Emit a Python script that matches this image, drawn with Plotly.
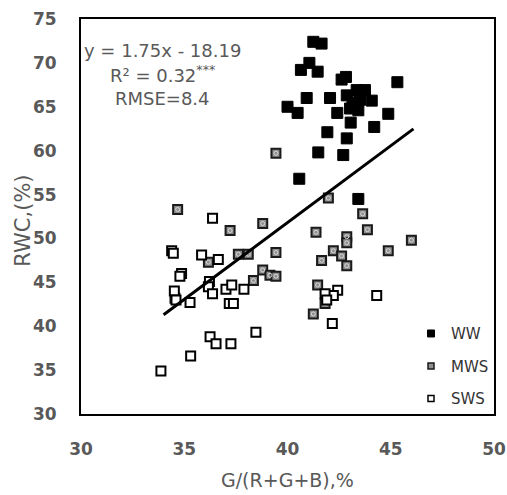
import plotly.graph_objects as go

# ---- data ----
ww_x = [41.25, 41.65, 41.06, 40.65, 41.46, 42.62, 42.83, 45.32, 40.93, 42.06,
        42.87, 43.35, 43.75, 43.51, 44.08, 40.00, 40.49, 42.41, 43.03, 43.43,
        44.88, 43.06, 44.20, 41.93, 42.87, 41.49, 42.70, 40.57, 43.43, 43.15]
ww_y = [72.4, 72.2, 70.0, 69.2, 69.0, 68.1, 68.4, 67.8, 66.0, 66.0,
        66.3, 66.9, 66.9, 65.8, 65.7, 65.0, 64.3, 64.3, 64.8, 64.6,
        64.2, 63.2, 62.7, 62.1, 61.4, 59.8, 59.5, 56.8, 54.5, 65.5]

mws_x = [39.44, 41.98, 34.68, 43.64, 37.22, 38.80, 41.38, 43.87, 42.87, 42.87,
         46.00, 44.88, 42.22, 39.44, 37.62, 38.10, 36.17, 41.65, 42.62, 42.87,
         38.80, 39.15, 39.44, 38.35, 41.46, 41.82, 41.25, 34.55]
mws_y = [59.7, 54.6, 53.3, 52.8, 50.9, 51.7, 50.7, 51.0, 50.2, 49.5,
         49.8, 48.6, 48.6, 48.4, 48.2, 48.2, 47.3, 47.5, 48.0, 46.9,
         46.4, 45.8, 45.7, 45.2, 44.7, 42.6, 41.4, 43.2]

sws_x = [33.87, 35.31, 36.25, 36.54, 37.26, 38.47, 42.17, 44.32, 42.43, 42.22,
         41.82, 34.39, 34.47, 36.37, 35.84, 36.65, 34.87, 34.79, 36.22, 36.17,
         36.37, 34.52, 34.60, 35.28, 37.02, 37.30, 37.89, 37.18, 37.38, 41.90]
sws_y = [34.9, 36.6, 38.8, 38.0, 38.0, 39.3, 40.3, 43.5, 44.1, 43.5,
         43.7, 48.6, 48.3, 52.3, 48.1, 47.6, 46.0, 45.7, 45.1, 44.5,
         43.7, 44.0, 43.0, 42.7, 44.2, 44.7, 44.2, 42.6, 42.6, 43.0]

fit_slope = 1.75
fit_intercept = -18.19
fit_x = [34.0, 46.1]
fit_y = [fit_slope * v + fit_intercept for v in fit_x]

x_ticks = [30, 35, 40, 45, 50]
y_ticks = [30, 35, 40, 45, 50, 55, 60, 65, 70, 75]

eq_lines = ["y = 1.75x - 18.19", "R² = 0.32<sup>***</sup>", "RMSE=8.4"]
x_title = "G/(R+G+B),%"
y_title = "RWC,(%)"

FONT = "DejaVu Sans"
GRAY = "#595959"

fig = go.Figure()

# plotted points (legend handled by small dummy keys)
fig.add_trace(go.Scatter(x=mws_x, y=mws_y, mode="markers", showlegend=False,
                         marker=dict(symbol="square", size=9, color="#8f8f8f",
                                     line=dict(color="#1a1a1a", width=2))))
fig.add_trace(go.Scatter(x=mws_x, y=mws_y, mode="markers", showlegend=False,
                         hoverinfo="skip",
                         marker=dict(symbol="circle-open", size=4, color="#d8d8d8",
                                     line=dict(color="#d8d8d8", width=1))))
fig.add_trace(go.Scatter(x=sws_x, y=sws_y, mode="markers", showlegend=False,
                         marker=dict(symbol="square", size=9, color="white",
                                     line=dict(color="black", width=2))))
fig.add_trace(go.Scatter(x=ww_x, y=ww_y, mode="markers", showlegend=False,
                         marker=dict(symbol="square", size=11, color="black",
                                     line=dict(color="black", width=1))))
fig.add_trace(go.Scatter(x=fit_x, y=fit_y, mode="lines", showlegend=False,
                         line=dict(color="black", width=3)))

# legend keys
fig.add_trace(go.Scatter(x=[None], y=[None], mode="markers", name="WW", legendgroup="a",
                         marker=dict(symbol="square", size=7, color="black",
                                     line=dict(color="black", width=1))))
fig.add_trace(go.Scatter(x=[None], y=[None], mode="markers", name="MWS", legendgroup="b",
                         marker=dict(symbol="square", size=6, color="#8f8f8f",
                                     line=dict(color="#1a1a1a", width=1.5))))
fig.add_trace(go.Scatter(x=[None], y=[None], mode="markers", name="SWS", legendgroup="c",
                         marker=dict(symbol="square", size=6, color="white",
                                     line=dict(color="black", width=1.5))))

# regression text
eq_y = [71.45, 68.7, 65.9]
for txt, yy in zip(eq_lines, eq_y):
    fig.add_annotation(x=33.97, y=yy, xref="x", yref="y", text=txt, showarrow=False,
                       xanchor="center", yanchor="middle",
                       font=dict(family=FONT, size=18, color=GRAY))

# axis titles
fig.add_annotation(x=0.5, y=-0.167, xref="paper", yref="paper", text=x_title,
                   showarrow=False, xanchor="center", yanchor="middle",
                   font=dict(family=FONT, size=19, color=GRAY))
fig.add_annotation(x=-0.14, y=0.49, xref="paper", yref="paper", text=y_title,
                   showarrow=False, xanchor="center", yanchor="middle", textangle=-90,
                   font=dict(family=FONT, size=21, color=GRAY))

axis_common = dict(showgrid=False, zeroline=False, showline=True, mirror=True,
                   linecolor="black", linewidth=2, ticks="outside",
                   tickcolor="rgba(0,0,0,0)", automargin=False,
                   tickfont=dict(family=FONT, size=17, color=GRAY, weight="bold"))

fig.update_xaxes(range=[30, 50], tickvals=x_ticks, ticklen=19, **axis_common)
fig.update_yaxes(range=[30, 75], tickvals=y_ticks, ticklen=19, **axis_common)

fig.update_layout(
    width=507, height=495,
    margin=dict(l=81, r=13, t=19, b=81, autoexpand=False),
    paper_bgcolor="white", plot_bgcolor="white",
    font=dict(family=FONT),
    legend=dict(x=1.0, y=0.245, xanchor="right", yanchor="top",
                bgcolor="rgba(0,0,0,0)", tracegroupgap=10,
                font=dict(family=FONT, size=15, color="#333333"),
                itemwidth=30),
)

fig.write_html("out.html", config={"displayModeBar": False},
               post_script="document.body.style.margin='0';document.body.style.overflow='hidden';")
